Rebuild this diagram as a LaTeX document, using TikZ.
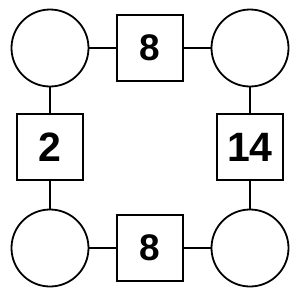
\documentclass[tikz,border=0pt]{standalone}
\usepackage{fontspec}
\setmainfont{Liberation Sans}
\begin{document}
\begin{tikzpicture}[x=1pt,y=-1pt,
  circ/.style={draw,circle,line width=1.8pt,minimum size=77pt,inner sep=0pt},
  sq/.style={draw,rectangle,line width=1.8pt,minimum size=66pt,inner sep=0pt,font=\fontsize{37}{37}\selectfont\bfseries},
  big/.style={font=\fontsize{41}{41}\selectfont\bfseries},
  link/.style={line width=1.8pt}]
\useasboundingbox (0,0) rectangle (300,300);
\node[circ] (tl) at (50,48) {};
\node[circ] (tr) at (250,48) {};
\node[circ] (bl) at (50,248) {};
\node[circ] (br) at (250,248) {};
\node[sq] (t) at (150,48) {8};
\node[sq] (b) at (150,248) {8};
\node[sq,big] (l) at (50,147) {2};
\node[sq,big] (r) at (250,147) {14};
\draw[link] (tl) -- (t);
\draw[link] (t) -- (tr);
\draw[link] (bl) -- (b);
\draw[link] (b) -- (br);
\draw[link] (tl) -- (l);
\draw[link] (l) -- (bl);
\draw[link] (tr) -- (r);
\draw[link] (r) -- (br);
\end{tikzpicture}
\end{document}
